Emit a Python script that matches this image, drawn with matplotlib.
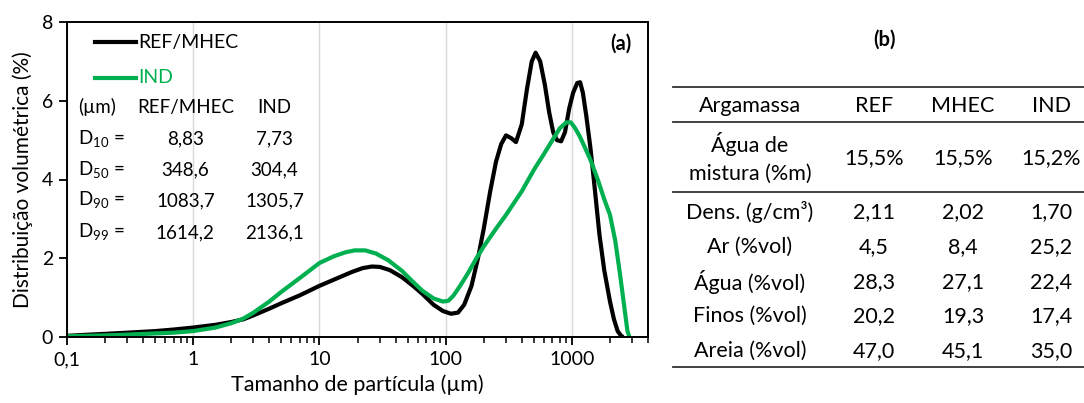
import numpy as np
import matplotlib
matplotlib.use("Agg")
import matplotlib.pyplot as plt
from matplotlib.lines import Line2D
from matplotlib.ticker import FixedLocator, LogLocator, NullFormatter

plt.rcParams['font.family'] = ['Lato', 'DejaVu Sans']
plt.rcParams['mathtext.fontset'] = 'custom'
plt.rcParams['mathtext.rm'] = 'Lato'

# particle size distributions
ref_x = [0.1, 0.15, 0.2, 0.3, 0.5, 0.7, 1, 1.5, 2, 2.5, 3, 4, 5, 7, 10, 14, 18, 22, 26,
         30, 36, 45, 55, 65, 80, 95, 110, 125, 140, 160, 180, 200, 225, 250, 275, 300,
         330, 360, 400, 440, 480, 515, 560, 610, 660, 710, 760, 820, 880, 950, 1020,
         1100, 1160, 1220, 1300, 1400, 1500, 1650, 1800, 2000, 2150, 2300, 2450, 2550]
ref_y = [0.03, 0.06, 0.08, 0.11, 0.15, 0.19, 0.24, 0.31, 0.38, 0.45, 0.55, 0.72, 0.86,
         1.06, 1.3, 1.5, 1.65, 1.75, 1.79, 1.78, 1.7, 1.52, 1.3, 1.1, 0.82, 0.66, 0.59,
         0.62, 0.82, 1.3, 2.0, 2.75, 3.7, 4.45, 4.9, 5.12, 5.05, 4.95, 5.4, 6.3, 7.0,
         7.22, 7.0, 6.4, 5.7, 5.2, 5.0, 4.97, 5.2, 5.8, 6.2, 6.45, 6.47, 6.2, 5.6, 4.8,
         3.9, 2.6, 1.7, 0.9, 0.45, 0.15, 0.03, 0.0]

ind_x = [0.1, 0.2, 0.3, 0.5, 0.7, 1, 1.5, 2, 2.5, 3, 4, 5, 7, 10, 13, 16, 19, 23, 28,
         35, 45, 55, 65, 80, 95, 105, 115, 130, 150, 175, 200, 250, 300, 400, 500, 600,
         700, 800, 900, 980, 1060, 1150, 1250, 1400, 1600, 1800, 2000, 2200, 2400,
         2600, 2750, 2850]
ind_y = [0.02, 0.04, 0.06, 0.09, 0.11, 0.15, 0.24, 0.35, 0.47, 0.62, 0.9, 1.15, 1.5,
         1.88, 2.05, 2.15, 2.2, 2.2, 2.12, 1.95, 1.68, 1.4, 1.18, 0.98, 0.9, 0.92, 1.05,
         1.3, 1.62, 2.0, 2.3, 2.75, 3.1, 3.7, 4.25, 4.65, 5.0, 5.3, 5.45, 5.45, 5.3,
         5.1, 4.85, 4.5, 4.0, 3.5, 3.1, 2.45, 1.6, 0.75, 0.15, 0.0]

x_ticks = [0.1, 1, 10, 100, 1000]
x_tick_labels = ["0,1", "1", "10", "100", "1000"]
y_ticks = [0, 2, 4, 6, 8]

# characteristic diameters (um)
d_labels = ["10", "50", "90", "99"]
d_ref = ["8,83", "348,6", "1083,7", "1614,2"]
d_ind = ["7,73", "304,4", "1305,7", "2136,1"]

# table (b)
tab_header = ["Argamassa", "REF", "MHEC", "IND"]
tab_rows = ["Água de\nmistura (%m)", "Dens. (g/cm³)", "Ar (%vol)", "Água (%vol)",
            "Finos (%vol)", "Areia (%vol)"]
tab_ref = ["15,5%", "2,11", "4,5", "28,3", "20,2", "47,0"]
tab_mhec = ["15,5%", "2,02", "8,4", "27,1", "19,3", "45,1"]
tab_ind = ["15,2%", "1,70", "25,2", "22,4", "17,4", "35,0"]

black = "#000000"
green = "#00B050"
W, H = 1084, 403

fig = plt.figure(figsize=(W / 100, H / 100), dpi=100)
ax = fig.add_axes([67 / W, 1 - 337 / H, (648 - 67) / W, (337 - 22) / H])

ax.plot(ref_x, ref_y, color=black, lw=3.0, solid_capstyle='butt', zorder=3)
ax.plot(ind_x, ind_y, color=green, lw=3.0, solid_capstyle='butt', zorder=4)

ax.set_xscale('log')
ax.set_xlim(0.1, 4000)
ax.set_ylim(0, 8)
ax.xaxis.set_major_locator(FixedLocator(x_ticks))
ax.set_xticklabels(x_tick_labels)
ax.xaxis.set_minor_locator(LogLocator(base=10, subs=np.arange(2, 10)))
ax.xaxis.set_minor_formatter(NullFormatter())
ax.set_yticks(y_ticks)
ax.grid(axis='x', which='major', color='#d9d9d9', lw=1.0, zorder=0)
ax.tick_params(axis='both', which='major', direction='out', length=6, width=1.3,
               labelsize=14, colors='black', pad=4)
ax.tick_params(axis='x', which='minor', direction='out', length=4, width=1.1)
for s in ax.spines.values():
    s.set_linewidth(1.4)
    s.set_zorder(5)

ax.set_xlabel("Tamanho de partícula (µm)", fontsize=15.5, labelpad=5)
ax.set_ylabel("Distribuição volumétrica (%)", fontsize=15, labelpad=6)

# legend drawn inside the axes like the original
ax.plot([0.166, 0.355], [7.49, 7.49], color=black, lw=3.0, clip_on=False)
ax.text(0.365, 7.49, "REF/MHEC", fontsize=14, va='center', ha='left')
ax.plot([0.166, 0.355], [6.58, 6.58], color=green, lw=3.0, clip_on=False)
ax.text(0.365, 6.58, "IND", fontsize=14, va='center', ha='left', color=green)

ax.text(2430, 7.45, "(a)", fontsize=14.5, fontweight='bold', ha='center', va='center')

row_y = [5.03, 4.24, 3.46, 2.65]
fs = 13.5
ax.text(0.123, 5.84, "(µm)", fontsize=fs, va='center', ha='left')
ax.text(0.866, 5.84, "REF/MHEC", fontsize=fs, va='center', ha='center')
ax.text(4.4, 5.84, "IND", fontsize=fs, va='center', ha='center')
for lab, r, i, yy in zip(d_labels, d_ref, d_ind, row_y):
    ax.text(0.123, yy, "D$_{\\mathrm{%s}}$ =" % lab, fontsize=fs, va='center', ha='left')
    ax.text(0.866, yy, r, fontsize=fs, va='center', ha='center')
    ax.text(4.4, yy, i, fontsize=fs, va='center', ha='center')

# table (b) in figure pixels
def fx(px):
    return px / W

def fy(py):
    return 1 - py / H

fig.text(fx(885), fy(40), "(b)", fontsize=14.5, fontweight='bold', ha='center', va='center')
for py in [87, 122, 192, 367]:
    fig.add_artist(Line2D([fx(673), fx(1084)], [fy(py), fy(py)], color='#333333', lw=1.3))

tfs = 15.5
col_x = [750, 874, 963, 1051]
for cx, t in zip(col_x, tab_header):
    fig.text(fx(cx), fy(106), t, fontsize=tfs, ha='center', va='center')

data_y = [158, 212, 247, 282, 316, 351]
for k, name in enumerate(tab_rows):
    fig.text(fx(col_x[0]), fy(data_y[k]), name, fontsize=tfs, ha='center', va='center',
             linespacing=1.45)
    fig.text(fx(col_x[1]), fy(data_y[k]), tab_ref[k], fontsize=tfs, ha='center', va='center')
    fig.text(fx(col_x[2]), fy(data_y[k]), tab_mhec[k], fontsize=tfs, ha='center', va='center')
    fig.text(fx(col_x[3]), fy(data_y[k]), tab_ind[k], fontsize=tfs, ha='center', va='center')

fig.savefig("out.png", dpi=100)
